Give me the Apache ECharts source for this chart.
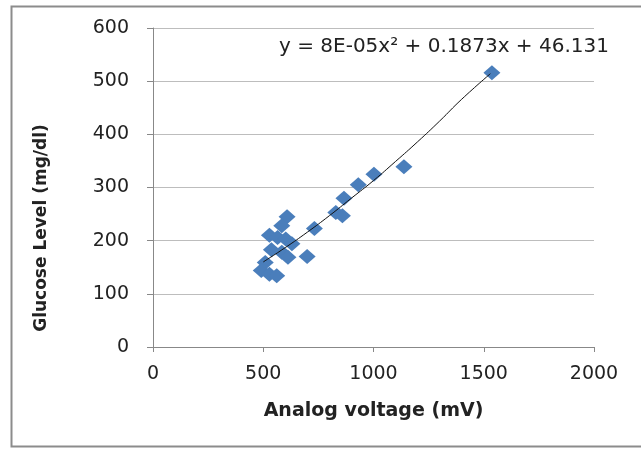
<!DOCTYPE html>
<html>
<head>
<meta charset="utf-8">
<script src="https://cdn.jsdelivr.net/npm/echarts@6/dist/echarts.min.js"></script>
<style>
    html, body { margin: 0; padding: 0; background: #fff; }
    #main { width: 641px; height: 450px; }
</style>
</head>
<body>
<div id="main"></div>
<script>
// 测量数据：电压(mV) 与 血糖(mg/dl)
var voltage = [1537, 1138, 1002, 931, 866, 829, 859, 732, 699, 608, 584, 528, 565, 602, 630, 537, 584, 612, 509, 491, 528, 561];
var glucose = [516, 339, 325, 305, 280, 253, 247, 223, 170, 245, 228, 210, 206, 203, 194, 183, 178, 169, 159, 144, 137, 134];

// 趋势线
var trendX = [500, 600, 700, 800, 900, 1000, 1100, 1200, 1300, 1400, 1530];
var trendY = [160, 187, 216, 247, 280, 313, 349, 386, 425, 466, 514];

var xTicks = [0, 500, 1000, 1500, 2000];
var yTicks = [0, 100, 200, 300, 400, 500, 600];

var equation = 'y = 8E-05x² + 0.1873x + 46.131';

var myChart = echarts.init(document.getElementById('main'));

var points = voltage.map(function (v, i) { return [v, glucose[i]]; });
var trend = trendX.map(function (v, i) { return [v, trendY[i]]; });

var font = 'DejaVu Sans';

myChart.setOption({
    animation: false,
    backgroundColor: '#fff',
    grid: { left: 153, right: 47, top: 28, bottom: 103 },
    xAxis: {
        type: 'value',
        min: xTicks[0],
        max: xTicks[xTicks.length - 1],
        interval: 500,
        name: 'Analog voltage (mV)',
        nameLocation: 'middle',
        nameGap: 55,
        nameTextStyle: { fontFamily: font, fontSize: 19, fontWeight: 'bold', color: '#222' },
        axisLine: { lineStyle: { color: '#888', width: 1 } },
        axisTick: { show: true, length: 5, inside: false, lineStyle: { color: '#888' } },
        axisLabel: {
            fontFamily: font, fontSize: 19, color: '#222', margin: 18,
            formatter: function (v) { return String(v); }
        },
        splitLine: { show: false }
    },
    yAxis: {
        type: 'value',
        min: yTicks[0],
        max: yTicks[yTicks.length - 1],
        interval: 100,
        axisLine: { show: true, lineStyle: { color: '#888', width: 1 } },
        axisTick: { show: true, length: 6, lineStyle: { color: '#888' } },
        axisLabel: {
            fontFamily: font, fontSize: 19, color: '#222', margin: 24,
            formatter: function (v) { return String(v); }
        },
        splitLine: { show: true, lineStyle: { color: '#bdbdbd', width: 1 } }
    },
    series: [
        {
            type: 'scatter',
            data: points,
            symbol: 'diamond',
            symbolSize: [17, 15],
            itemStyle: { color: '#4a7ebb', opacity: 1 },
            z: 2
        },
        {
            type: 'line',
            data: trend,
            smooth: true,
            showSymbol: false,
            lineStyle: { color: '#111', width: 1 },
            z: 3
        }
    ],
    graphic: [
        {
            type: 'rect',
            left: 9, top: 4,
            shape: { width: 640, height: 440 },
            style: { fill: 'none', stroke: '#8c8c8c', lineWidth: 2 },
            silent: true
        },
        {
            type: 'text',
            x: 42, y: 228,
            rotation: Math.PI / 2,
            style: {
                text: 'Glucose Level (mg/dl)',
                fontFamily: font, fontSize: 17, fontWeight: 'bold', fill: '#222',
                align: 'center', verticalAlign: 'middle'
            }
        },
        {
            type: 'text',
            left: 279, top: 37,
            style: { text: equation, fontFamily: font, fontSize: 20, fill: '#222' }
        }
    ]
});
</script>
</body>
</html>
